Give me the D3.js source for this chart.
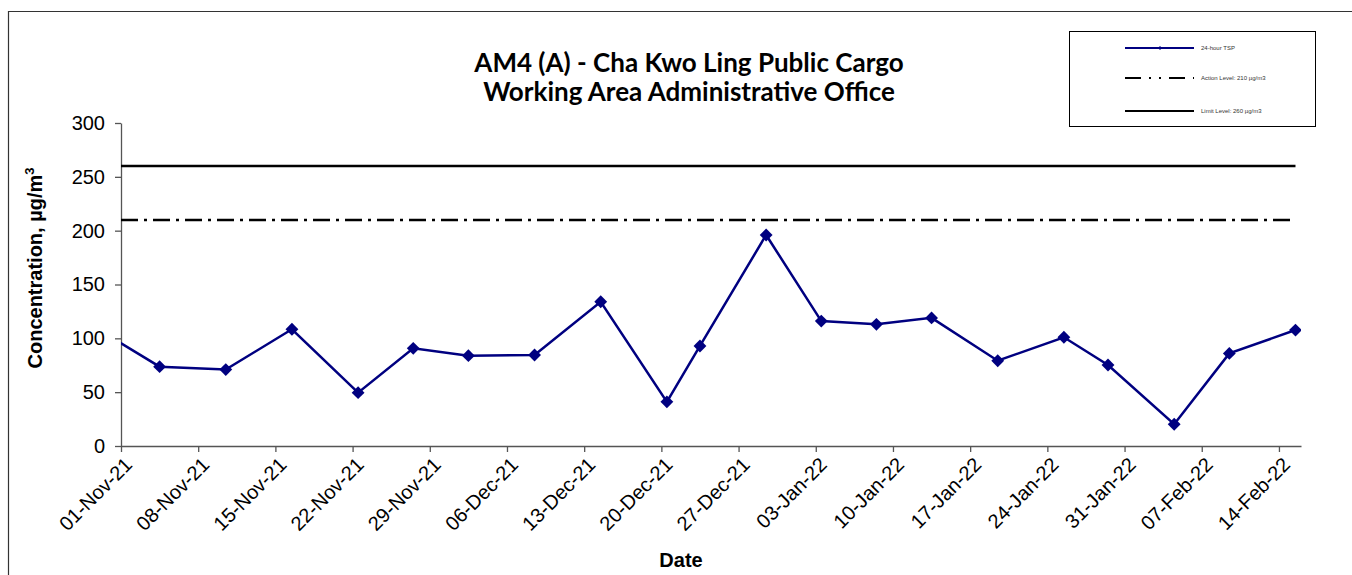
<!DOCTYPE html>
<html>
<head>
<meta charset="utf-8">
<script src="https://cdn.jsdelivr.net/npm/d3@7"></script>
<style>
  body { margin: 0; background: #fff; }
  svg { display: block; }
</style>
</head>
<body>
<div id="chart"></div>
<script>
// sampling dates and 24-hour TSP results (ug/m3)
var sampleDates = ["2021-10-29", "2021-11-04", "2021-11-10", "2021-11-16", "2021-11-22", "2021-11-27",
  "2021-12-02", "2021-12-08", "2021-12-14", "2021-12-20", "2021-12-23", "2021-12-29",
  "2022-01-03", "2022-01-08", "2022-01-13", "2022-01-19", "2022-01-25", "2022-01-29",
  "2022-02-04", "2022-02-09", "2022-02-15"]
var tspValues = [111, 73.7, 71, 108.4, 49.5, 90.7,
  83.9, 84.5, 134, 41, 92.9, 196,
  116, 113, 119, 79.2, 101, 75.2,
  20.2, 86, 107.7]

var actionLevel = 210
var limitLevel = 260

var yTicks = [0, 50, 100, 150, 200, 250, 300]
var xTickDates = ["2021-11-01", "2021-11-08", "2021-11-15", "2021-11-22", "2021-11-29", "2021-12-06",
  "2021-12-13", "2021-12-20", "2021-12-27", "2022-01-03", "2022-01-10", "2022-01-17",
  "2022-01-24", "2022-01-31", "2022-02-07", "2022-02-14"]

var legendLabels = ["24-hour TSP", "Action Level: 210 \u00b5g/m3", "Limit Level: 260 \u00b5g/m3"]

var width = 1352, height = 575
var parse = d3.timeParse("%Y-%m-%d")
var fmt = d3.timeFormat("%d-%b-%y")

var data = sampleDates.map(function (d, i) { return { date: parse(d), value: tspValues[i] } })

var svg = d3.select("#chart").append("svg")
  .attr("width", width)
  .attr("height", height)

// outer frame of the chart object
svg.append("path")
  .attr("d", "M8.5," + height + "V11.5H" + width)
  .attr("fill", "none")
  .attr("stroke", "#333")
  .attr("stroke-width", 1.2)

var x = d3.scaleTime()
  .domain([parse("2021-11-01"), parse("2022-02-16")])
  .range([121, 1301])
var y = d3.scaleLinear()
  .domain([0, 300])
  .range([446, 123])

// points sit in the middle of their day (Excel date axis)
function px(d) { return x(d3.timeHour.offset(d, 12)) }

svg.append("clipPath").attr("id", "plotclip")
  .append("rect")
  .attr("x", x.range()[0]).attr("y", y.range()[1] - 10)
  .attr("width", x.range()[1] - x.range()[0])
  .attr("height", y.range()[0] - y.range()[1] + 20)

// title
var title = svg.append("text")
  .attr("x", 689)
  .attr("text-anchor", "middle")
  .style("font-family", "Lato, 'Open Sans', sans-serif")
  .style("font-weight", "bold")
  .style("font-size", "26px")
title.append("tspan").attr("x", 689).attr("y", 72).text("AM4 (A) - Cha Kwo Ling Public Cargo")
title.append("tspan").attr("x", 689).attr("y", 101).text("Working Area Administrative Office")

// y axis
var yAxis = svg.append("g")
  .attr("transform", "translate(" + x.range()[0] + ",0)")
  .call(d3.axisLeft(y).tickValues(yTicks).tickSize(6).tickPadding(10).tickSizeOuter(0))
yAxis.selectAll("path, line").attr("stroke", "#555").attr("stroke-width", 1.3)
yAxis.selectAll("text")
  .style("font-family", "Arial, 'Liberation Sans', sans-serif")
  .style("font-size", "20px")
  .attr("fill", "#000")

// x axis
var xAxis = svg.append("g")
  .attr("transform", "translate(0," + y.range()[0] + ")")
  .call(d3.axisBottom(x).tickValues(xTickDates.map(parse)).tickFormat(fmt).tickSize(6).tickSizeOuter(0))
xAxis.selectAll("path, line").attr("stroke", "#555").attr("stroke-width", 1.3)
xAxis.selectAll("text")
  .style("font-family", "Arial, 'Liberation Sans', sans-serif")
  .style("font-size", "20px")
  .attr("fill", "#000")
  .attr("text-anchor", "end")
  .attr("dy", "0.35em")
  .attr("y", 0)
  .attr("transform", "translate(7,15) rotate(-45)")

// axis titles
svg.append("text")
  .attr("transform", "translate(42,268) rotate(-90)")
  .attr("text-anchor", "middle")
  .style("font-family", "Arial, 'Liberation Sans', sans-serif")
  .style("font-weight", "bold")
  .style("font-size", "20px")
  .text("Concentration, \u00b5g/m")
  .append("tspan")
  .attr("dy", "-8")
  .style("font-size", "13px")
  .text("3")

svg.append("text")
  .attr("x", 681).attr("y", 567)
  .attr("text-anchor", "middle")
  .style("font-family", "Arial, 'Liberation Sans', sans-serif")
  .style("font-weight", "bold")
  .style("font-size", "20px")
  .text("Date")

var plot = svg.append("g").attr("clip-path", "url(#plotclip)")

var firstX = x.range()[0]
var lastX = px(data[data.length - 1].date)

// limit and action level lines
plot.append("line")
  .attr("x1", firstX).attr("x2", lastX)
  .attr("y1", y(limitLevel)).attr("y2", y(limitLevel))
  .attr("stroke", "#000").attr("stroke-width", 2.5)

plot.append("line")
  .attr("x1", firstX).attr("x2", lastX)
  .attr("y1", y(actionLevel)).attr("y2", y(actionLevel))
  .attr("stroke", "#000").attr("stroke-width", 2.5)
  .attr("stroke-dasharray", "17,6,3,6")

// TSP series
var line = d3.line()
  .x(function (d) { return px(d.date) })
  .y(function (d) { return y(d.value) })

plot.append("path")
  .datum(data)
  .attr("d", line)
  .attr("fill", "none")
  .attr("stroke", "#000080")
  .attr("stroke-width", 2.5)

var diamond = d3.symbol().type(d3.symbolDiamond2).size(105)

plot.selectAll(".pt")
  .data(data)
  .enter()
  .append("path")
  .attr("class", "pt")
  .attr("d", diamond)
  .attr("transform", function (d) { return "translate(" + px(d.date) + "," + y(d.value) + ")" })
  .attr("fill", "#000080")

// legend
var legend = svg.append("g")
legend.append("rect")
  .attr("x", 1069.5).attr("y", 31.5)
  .attr("width", 246).attr("height", 95)
  .attr("fill", "#fff").attr("stroke", "#000").attr("stroke-width", 1)

var legendY = [48, 78, 111]
var legendDash = [null, "16,8,2,8,2,8", null]
var legendColor = ["#000080", "#000", "#000"]

legendLabels.forEach(function (lab, i) {
  legend.append("line")
    .attr("x1", 1125).attr("x2", 1194)
    .attr("y1", legendY[i]).attr("y2", legendY[i])
    .attr("stroke", legendColor[i])
    .attr("stroke-width", 2)
    .attr("stroke-dasharray", legendDash[i])
  if (i === 0) {
    legend.append("path")
      .attr("d", d3.symbol().type(d3.symbolDiamond2).size(10))
      .attr("transform", "translate(1160," + legendY[i] + ")")
      .attr("fill", "#000080")
  }
  legend.append("text")
    .attr("x", 1201).attr("y", legendY[i] + 2)
    .style("font-family", "Arial, 'Liberation Sans', sans-serif")
    .style("font-size", "6px")
    .attr("fill", "#333")
    .text(lab)
})
</script>
</body>
</html>
